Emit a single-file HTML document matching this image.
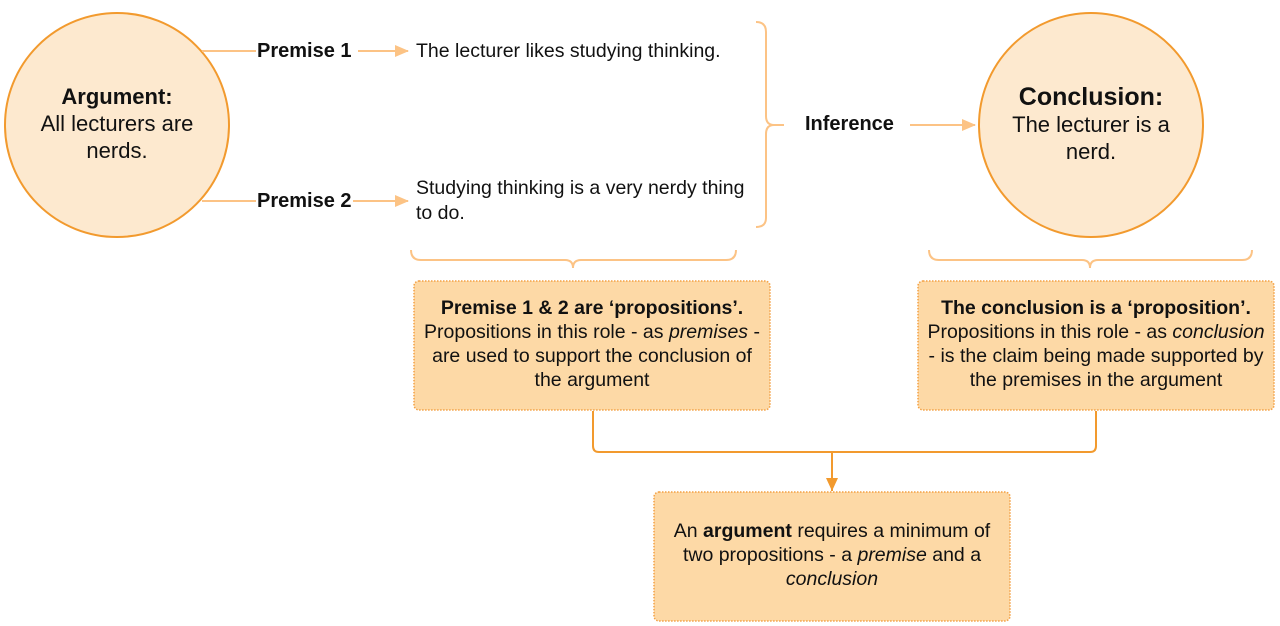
<!DOCTYPE html>
<html><head><meta charset="utf-8"><style>
html,body{margin:0;padding:0;background:#fff;}
svg{display:block;font-family:"Liberation Sans",Arial,sans-serif;}
</style></head><body>
<svg width="1280" height="626" viewBox="0 0 1280 626" xmlns="http://www.w3.org/2000/svg">
<defs>
<marker id="pa" markerWidth="14" markerHeight="12" refX="13" refY="6" orient="auto" markerUnits="userSpaceOnUse"><path d="M0,0 L14,6 L0,12 z" fill="#fcc385"/></marker>
<marker id="da" markerWidth="12" markerHeight="14" refX="6" refY="13" orient="0" markerUnits="userSpaceOnUse"><path d="M0,0 L12,0 L6,13 z" fill="#f29a2e"/></marker>
</defs>
<circle cx="117" cy="125" r="112" fill="#fde9cf" stroke="#f29a2e" stroke-width="2"/>
<circle cx="1091" cy="125" r="112" fill="#fde9cf" stroke="#f29a2e" stroke-width="2"/>
<g text-anchor="middle" font-size="22" fill="#111">
<text x="117" y="104" font-weight="bold">Argument:</text>
<text x="117" y="131">All lecturers are</text>
<text x="117" y="158">nerds.</text>
<text x="1091" y="105" font-weight="bold" font-size="25">Conclusion:</text>
<text x="1091" y="132">The lecturer is a</text>
<text x="1091" y="159">nerd.</text>
</g>
<g stroke="#fcc385" stroke-width="2" fill="none">
<line x1="202" y1="51" x2="256" y2="51"/>
<line x1="358" y1="51" x2="408" y2="51" marker-end="url(#pa)"/>
<line x1="202" y1="201" x2="256" y2="201"/>
<line x1="353" y1="201" x2="408" y2="201" marker-end="url(#pa)"/>
<line x1="910" y1="125" x2="975" y2="125" marker-end="url(#pa)"/>
<path d="M756,22 Q766,22 766,32 L766,116 Q766,125 774,125 L784,125 M774,125 Q766,125 766,134 L766,218 Q766,227 756,227"/>
<path d="M411,250 Q411,260 421,260 L565,260 Q573,260 573,268 Q573,260 581,260 L726,260 Q736,260 736,250"/>
<path d="M929,250 Q929,260 939,260 L1082,260 Q1090,260 1090,268 Q1090,260 1098,260 L1242,260 Q1252,260 1252,250"/>
</g>
<g font-size="19.5" fill="#111">
<text x="257" y="57" font-weight="bold" font-size="20">Premise 1</text>
<text x="257" y="207" font-weight="bold" font-size="20">Premise 2</text>
<text x="805" y="130" font-weight="bold" font-size="20">Inference</text>
<text x="416" y="57">The lecturer likes studying thinking.</text>
<text x="416" y="194">Studying thinking is a very nerdy thing</text>
<text x="416" y="219">to do.</text>
</g>
<g fill="#fdd9a6" stroke="#f3a043" stroke-width="1.5" stroke-dasharray="1.5,1.5">
<rect x="414" y="281" width="356" height="129" rx="5"/>
<rect x="918" y="281" width="356" height="129" rx="5"/>
<rect x="654" y="492" width="356" height="129" rx="5"/>
</g>
<path d="M593,411 L593,446 Q593,452 599,452 L1090,452 Q1096,452 1096,446 L1096,411" stroke="#f29a2e" stroke-width="2" fill="none"/>
<line x1="832" y1="452" x2="832" y2="491" stroke="#f29a2e" stroke-width="2" marker-end="url(#da)"/>
<g text-anchor="middle" font-size="19.5" fill="#111">
<text x="592" y="314" font-weight="bold">Premise 1 &amp; 2 are ‘propositions’.</text>
<text x="592" y="338">Propositions in this role - as <tspan font-style="italic">premises</tspan> -</text>
<text x="592" y="362">are used to support the conclusion of</text>
<text x="592" y="386">the argument</text>
<text x="1096" y="314" font-weight="bold">The conclusion is a ‘proposition’.</text>
<text x="1096" y="338">Propositions in this role - as <tspan font-style="italic">conclusion</tspan></text>
<text x="1096" y="362">-  is the claim being made supported by</text>
<text x="1096" y="386">the premises in the argument</text>
<text x="832" y="537">An <tspan font-weight="bold">argument</tspan> requires a minimum of</text>
<text x="832" y="561">two propositions - a <tspan font-style="italic">premise</tspan> and a</text>
<text x="832" y="585" font-style="italic">conclusion</text>
</g>
</svg>
</body></html>
